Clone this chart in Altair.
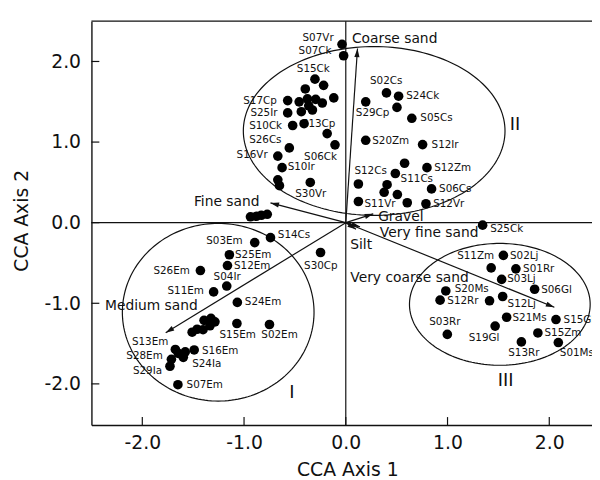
import math
import altair as alt
import pandas as pd

# ---------------- data ----------------
# site scores (CCA axis 1, CCA axis 2)
site_x = [
    -0.037, -0.021, -0.303, -0.218, -0.398, -0.118, -0.571, -0.458, -0.377, -0.296,
    -0.231, -0.571, -0.437, -0.328, -0.522, -0.410, -0.183, -0.106, -0.555, -0.668,
    -0.626, -0.668, -0.652, -0.349, -0.364,
    -0.937, -0.879, -0.830, -0.772,
    -0.740, -0.895, -1.144, -1.163, -1.429, -1.170, -1.299, -1.066, -1.070, -0.750,
    -1.325, -1.393, -1.335, -1.403, -1.461, -1.510, -1.286, -1.490, -1.578, -1.675,
    -1.597, -1.714, -1.728, -1.646, -1.650, -0.248,
    1.549, 1.429, 1.672, 1.532, 1.856, 0.983, 0.927, 1.413, 1.542, 1.581,
    2.066, 1.468, 1.888, 0.998, 1.726, 2.089, 1.345,
    0.400, 0.519, 0.196, 0.503, 0.649, 0.196, 0.755, 0.578, 0.798, 0.487,
    0.124, 0.406, 0.843, 0.377, 0.507, 0.124, 0.604, 0.788,
]
site_y = [
    2.213, 2.071, 1.781, 1.704, 1.659, 1.548, 1.515, 1.499, 1.536, 1.530,
    1.485, 1.362, 1.377, 1.398, 1.206, 1.228, 1.105, 0.966, 0.928, 0.826,
    0.683, 0.532, 0.459, 0.499, 1.450,
    0.073, 0.080, 0.092, 0.104,
    -0.186, -0.247, -0.398, -0.532, -0.594, -0.786, -0.859, -0.989, -1.251, -1.263,
    -1.187, -1.212, -1.279, -1.328, -1.322, -1.359, -1.230, -1.579, -1.603, -1.573,
    -1.671, -1.695, -1.781, -1.622, -2.010, -0.370,
    -0.406, -0.561, -0.573, -0.704, -0.826, -0.847, -0.961, -0.969, -0.916, -1.173,
    -1.202, -1.283, -1.368, -1.386, -1.479, -1.487, -0.031,
    1.610, 1.569, 1.499, 1.430, 1.295, 1.022, 0.969, 0.737, 0.683, 0.610,
    0.480, 0.471, 0.419, 0.377, 0.349, 0.263, 0.247, 0.235,
]

# site labels (text, left edge x, centre y in data units)
label_text = [
    "S07Vr", "S07Ck", "S15Ck", "S17Cp", "S25Ir", "S10Ck", "S13Cp", "S26Cs", "S16Vr",
    "S06Ck", "S10Ir", "S30Vr",
    "S02Cs", "S24Ck", "S29Cp", "S05Cs", "S20Zm", "S12Ir", "S12Zm", "S12Cs", "S11Cs",
    "S06Cs", "S11Vr", "S12Vr", "S25Ck",
    "S14Cs", "S03Em", "S25Em", "S12Em", "S26Em", "S04Ir", "S11Em", "S24Em", "S15Em",
    "S02Em", "S13Em", "S28Em", "S16Em", "S24Ia", "S29Ia", "S07Em", "S30Cp",
    "S11Zm", "S02Lj", "S01Rr", "S03Lj", "S06Gl", "S20Ms", "S12Rr", "S12Lj", "S21Ms",
    "S15Gl", "S03Rr", "S19Gl", "S15Zm", "S13Rr", "S01Ms",
]
label_x = [
    -0.425, -0.464, -0.481, -1.008, -0.937, -0.950, -0.432, -0.950, -1.073,
    -0.410, -0.571, -0.497,
    0.238, 0.594, 0.099, 0.733, 0.260, 0.843, 0.869, 0.085, 0.539,
    0.917, 0.183, 0.859, 1.419,
    -0.668, -1.371, -1.089, -1.099, -1.891, -1.299, -1.752, -0.992, -1.241,
    -0.830, -2.102, -2.157, -1.413, -1.510, -2.092, -1.565, -0.410,
    1.095, 1.614, 1.743, 1.587, 1.920, 1.070, 0.998, 1.590, 1.639,
    2.141, 0.820, 1.209, 1.953, 1.597, 2.104,
]
label_y = [
    2.295, 2.124, 1.907, 1.512, 1.365, 1.193, 1.224, 1.031, 0.835,
    0.818, 0.695, 0.357,
    1.753, 1.569, 1.356, 1.295, 1.010, 0.969, 0.683, 0.643, 0.541,
    0.419, 0.236, 0.235, -0.083,
    -0.153, -0.226, -0.406, -0.541, -0.602, -0.676, -0.847, -0.989, -1.389,
    -1.398, -1.487, -1.650, -1.594, -1.753, -1.838, -2.010, -0.541,
    -0.410, -0.419, -0.580, -0.700, -0.835, -0.826, -0.969, -1.010, -1.185,
    -1.202, -1.234, -1.426, -1.365, -1.622, -1.622,
]

# environmental variables (biplot arrows)
env_names = ["Coarse sand", "Fine sand", "Medium sand", "Gravel",
             "Very fine sand", "Silt", "Very coarse sand"]
env_tip_x = [0.115, -0.74, -1.77, 0.27, 0.14, 0.10, 2.05]
env_tip_y = [2.16, 0.245, -1.365, 0.11, -0.05, -0.08, -1.05]
env_lab_x = [0.06, -1.493, -2.367, 0.318, 0.335, 0.044, 0.044]
env_lab_y = [2.274, 0.255, -1.031, 0.064, -0.130, -0.275, -0.685]

# site groups (ellipses)
group_names = ["I", "II", "III"]
group_cx = [-1.254, 0.279, 1.514]
group_cy = [-1.111, 1.138, -1.013]
group_rx = [0.942, 1.286, 0.888]
group_ry = [1.102, 1.047, 0.756]
group_lab_x = [-0.529, 1.662, 1.571]
group_lab_y = [-2.111, 1.214, -1.968]

x_ticks = [-2, -1, 0, 1, 2]
y_ticks = [-2, -1, 0, 1, 2]

# ---------------- layout ----------------
X_DOMAIN = [-2.5, 2.42]
Y_DOMAIN = [-2.51, 2.50]
W, H = 507, 409
FONT = "DejaVu Sans"
INK = "#111111"

xs = alt.Scale(domain=X_DOMAIN, nice=False, zero=False)
ys = alt.Scale(domain=Y_DOMAIN, nice=False, zero=False)

ppx = W / (X_DOMAIN[1] - X_DOMAIN[0])
ppy = H / (Y_DOMAIN[1] - Y_DOMAIN[0])

x_axis = alt.Axis(
    values=x_ticks,
    labelExpr="(datum.value < 0 ? '-' : '') + format(abs(datum.value), '.1f')",
    title="CCA Axis 1", ticks=False, grid=False,
    domainColor=INK, domainWidth=1.4,
    labelFont=FONT, labelFontSize=19, labelColor=INK, labelPadding=9,
    labelFlush=False,
    titleFont=FONT, titleFontSize=19, titleFontWeight="normal", titleColor=INK,
    titleX=259.2, titleY=51, titleAlign="center", titleBaseline="alphabetic",
)
y_axis = alt.Axis(
    values=y_ticks,
    labelExpr="(datum.value < 0 ? '-' : '') + format(abs(datum.value), '.1f')",
    title="CCA Axis 2", ticks=False, grid=False,
    domainColor=INK, domainWidth=1.4,
    labelFont=FONT, labelFontSize=19, labelColor=INK, labelPadding=11,
    labelFlush=False,
    titleFont=FONT, titleFontSize=19, titleFontWeight="normal", titleColor=INK,
    titleX=-71, titleY=201.7, titleAlign="center", titleBaseline="middle",
)


def X(field):
    return alt.X(field, type="quantitative", scale=xs, axis=x_axis)


def Y(field):
    return alt.Y(field, type="quantitative", scale=ys, axis=y_axis)


sites = pd.DataFrame({"x": site_x, "y": site_y})
labels = pd.DataFrame({"t": label_text, "x": label_x, "y": label_y})
env = pd.DataFrame({
    "name": env_names, "tx": env_tip_x, "ty": env_tip_y,
    "lx": env_lab_x, "ly": env_lab_y,
})
env["ox"] = 0.0
env["oy"] = 0.0
env["ang"] = [
    math.degrees(math.atan2(-ty * ppy, tx * ppx)) % 360
    for tx, ty in zip(env_tip_x, env_tip_y)
]
groups = pd.DataFrame({
    "g": group_names, "cx": group_cx, "cy": group_cy,
    "rx": group_rx, "ry": group_ry, "lx": group_lab_x, "ly": group_lab_y,
})
xt = pd.DataFrame({"v": x_ticks})
yt = pd.DataFrame({"v": y_ticks})
zero = pd.DataFrame({"v": [0.0]})

# ---------------- layers ----------------
ellipses = alt.Chart(groups).transform_calculate(
    t="sequence(0, 362, 2)"
).transform_flatten(["t"]).transform_calculate(
    ex="datum.cx + datum.rx * cos(datum.t * PI / 180)",
    ey="datum.cy + datum.ry * sin(datum.t * PI / 180)",
).mark_line(color=INK, strokeWidth=1.2).encode(
    x=X("ex"), y=Y("ey"), detail="g:N", order="t:Q",
)

vzero = alt.Chart(zero).mark_rule(color=INK, strokeWidth=1.2).encode(x=X("v"))
hzero = alt.Chart(zero).mark_rule(color=INK, strokeWidth=1.2).encode(y=Y("v"))
top_frame = alt.Chart(zero).mark_rule(color=INK, strokeWidth=1.4).encode(
    x=alt.value(0), x2=alt.value(W), y=alt.value(0)
)

xtick_marks = alt.Chart(xt).mark_rule(color=INK, strokeWidth=1.2).encode(
    x=X("v"), y=alt.value(H), y2=alt.value(H - 8)
)
ytick_marks = alt.Chart(yt).mark_rule(color=INK, strokeWidth=1.2).encode(
    y=Y("v"), x=alt.value(0), x2=alt.value(8)
)

arrows = alt.Chart(env).mark_rule(color=INK, strokeWidth=1.2).encode(
    x=X("ox"), y=Y("oy"), x2="tx:Q", y2="ty:Q",
)
heads = alt.Chart(env).mark_point(
    shape="M0,0L-1,-0.3L-1,0.3Z", filled=True, size=300, color=INK, opacity=1
).encode(
    x=X("tx"), y=Y("ty"), angle=alt.Angle("ang:Q", scale=None),
)
env_text = alt.Chart(env).mark_text(
    align="left", baseline="middle", font=FONT, fontSize=14, color=INK
).encode(x=X("lx"), y=Y("ly"), text="name:N")

site_text = alt.Chart(labels).mark_text(
    align="left", baseline="middle", font=FONT, fontSize=10.5, color=INK
).encode(x=X("x"), y=Y("y"), text="t:N")

dots = alt.Chart(sites).mark_circle(size=95, color="#000000", opacity=1).encode(
    x=X("x"), y=Y("y"),
)

group_text = alt.Chart(groups).mark_text(
    align="center", baseline="middle", font=FONT, fontSize=18, color=INK
).encode(x=X("lx"), y=Y("ly"), text="g:N")

chart = alt.layer(
    ellipses, vzero, hzero, top_frame, xtick_marks, ytick_marks,
    arrows, heads, env_text, site_text, dots, group_text,
).properties(
    width=W, height=H,
    autosize=alt.AutoSizeParams(type="none"),
    padding={"left": 84.5, "top": 10.3, "right": 0, "bottom": 55},
    background="white",
).configure_view(stroke="transparent")

chart.save("out.html", embed_options={"renderer": "svg", "actions": False})
